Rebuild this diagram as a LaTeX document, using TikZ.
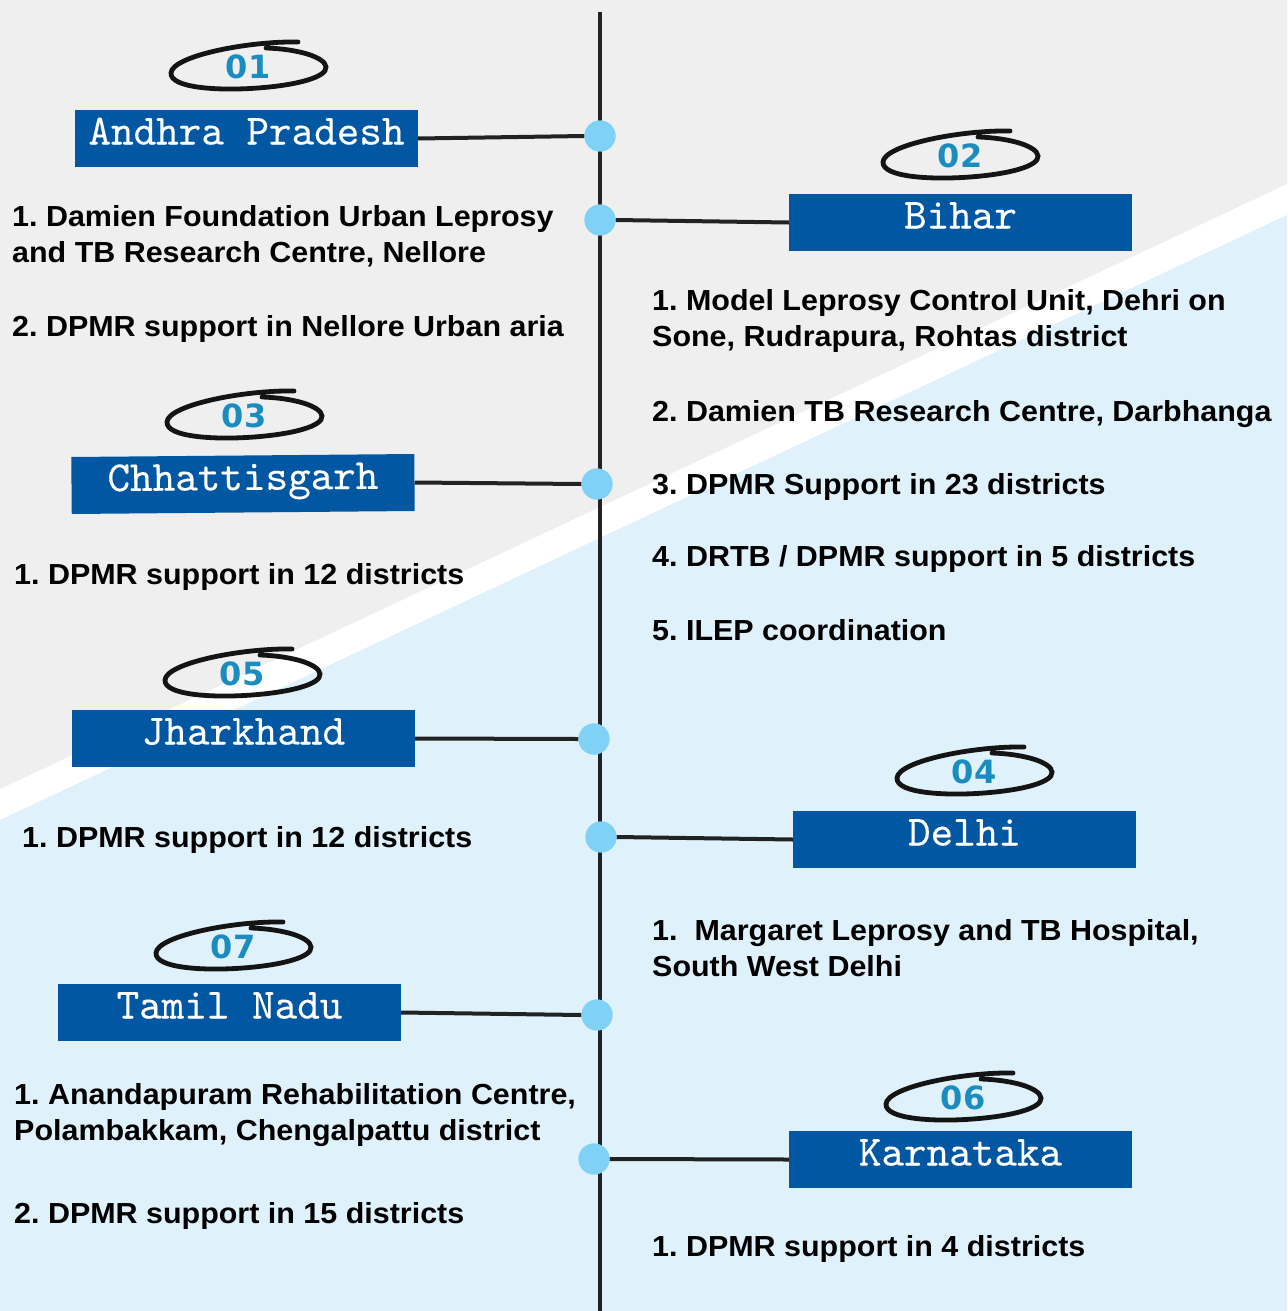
\documentclass[tikz,border=0pt]{standalone}
\usepackage{fontspec}
\setmainfont{Liberation Sans}
\newfontfamily\bodyfont[FakeStretch=1.05]{Liberation Sans Bold}
\newfontfamily\numfont{DejaVu Sans Bold}
\newfontfamily\boxfont[FakeBold=0.2]{lmmono10-regular.otf}
\definecolor{bggray}{HTML}{EFEFEF}
\definecolor{bgblue}{HTML}{DFF1FB}
\definecolor{boxblue}{HTML}{0157A2}
\definecolor{dotblue}{HTML}{7FD1F6}
\definecolor{numblue}{HTML}{1A8CC0}
\definecolor{linegray}{HTML}{222222}
\tikzset{
  statebox/.style={fill=boxblue, text=white, minimum width=343pt, minimum height=57pt,
    inner sep=0pt, text height=24pt, text depth=12pt,
    font=\boxfont\fontsize{43}{43}\selectfont},
  tdot/.style={circle, fill=dotblue, minimum size=31pt, inner sep=0pt},
  conn/.style={draw=linegray, line width=4pt},
  item/.style={anchor=base west, align=left, inner sep=0pt, text=black,
    font=\bodyfont\frenchspacing\fontsize{29}{35.5}\selectfont},
  num/.style={text=numblue, font=\numfont\fontsize{32}{32}\selectfont, inner sep=0pt},
  scrib/.pic={\draw[line width=4.8pt, line cap=round, black!92]
    (50,-25) .. controls (0,-26) and (-76,-11) .. (-77,6)
    .. controls (-78,21) and (-30,24) .. (10,21)
    .. controls (50,18) and (79,10) .. (78,0)
    .. controls (77,-10) and (50,-18) .. (18,-19);}
}
\begin{document}
\begin{tikzpicture}[x=1pt,y=-1pt]
\useasboundingbox (0,0) rectangle (1287,1311);
% background
\fill[white] (0,0) rectangle (1287,1311);
\fill[bggray] (0,0) -- (1287,0) -- (1287,184) -- (0,789) -- cycle;
\fill[bgblue] (0,820) -- (1287,215) -- (1287,1311) -- (0,1311) -- cycle;
% timeline
\coordinate (ttop) at (600,12);
\coordinate (tbot) at (600,1311);
\draw[conn] (ttop) -- (tbot);
% dots
\node[tdot] (d1) at (600,136) {};
\node[tdot] (d2) at (600,220) {};
\node[tdot] (d3) at (597,484) {};
\node[tdot] (d5) at (594,739) {};
\node[tdot] (d4) at (601,837) {};
\node[tdot] (d7) at (597,1015) {};
\node[tdot] (d6) at (594,1159) {};
% boxes
\node[statebox] (ap) at (246.5,138.5) {Andhra Pradesh};
\node[statebox] (bh) at (960.5,222.5) {Bihar};
\node[statebox, rotate=0.5] (ch) at (243,484) {Chhattisgarh};
\node[statebox] (jh) at (243.5,738.5) {Jharkhand};
\node[statebox] (dl) at (964.5,839.5) {Delhi};
\node[statebox] (tn) at (229.5,1012.5) {Tamil Nadu};
\node[statebox] (kn) at (960.5,1159.5) {Karnataka};
% connectors
\draw[conn] (ap.east) -- (d1.west);
\draw[conn] (bh.west) -- (d2.east);
\draw[conn] (ch.east) -- (d3.west);
\draw[conn] (jh.east) -- (d5.west);
\draw[conn] (dl.west) -- (d4.east);
\draw[conn] (tn.east) -- (d7.west);
\draw[conn] (kn.west) -- (d6.east);
% redraw dots over connectors
\foreach \d in {d1,d2,d3,d4,d5,d6,d7} \fill[dotblue] (\d) circle (15.5);
% scribbles and numbers
\pic at (248,67) {scrib}; \node[num] (n1) at (248,67) {01};
\pic at (960,156) {scrib}; \node[num] (n2) at (960,156) {02};
\pic at (244,416) {scrib}; \node[num] (n3) at (244,416) {03};
\pic at (242,674) {scrib}; \node[num] (n5) at (242,674) {05};
\pic at (974,772) {scrib}; \node[num] (n4) at (974,772) {04};
\pic at (233,947) {scrib}; \node[num] (n7) at (233,947) {07};
\pic at (963,1098) {scrib}; \node[num] (n6) at (963,1098) {06};
% items (multi-line nodes are placed at the baseline of their last line)
\node[item] (ap1) at (12,262) {1. Damien Foundation Urban Leprosy\\and TB Research Centre, Nellore};
\node[item] (ap2) at (12,336) {2. DPMR support in Nellore Urban aria};
\node[item] (bh1) at (652,346) {1. Model Leprosy Control Unit, Dehri on\\Sone, Rudrapura, Rohtas district};
\node[item] (bh2) at (652,421) {2. Damien TB Research Centre, Darbhanga};
\node[item] (bh3) at (652,494) {3. DPMR Support in 23 districts};
\node[item] (bh4) at (652,566) {4. DRTB / DPMR support in 5 districts};
\node[item] (bh5) at (652,640) {5. ILEP coordination};
\node[item] (ch1) at (14,584) {1. DPMR support in 12 districts};
\node[item] (jh1) at (22,847) {1. DPMR support in 12 districts};
\node[item] (dl1) at (652,976) {1.\ \ Margaret Leprosy and TB Hospital,\\South West Delhi};
\node[item] (tn1) at (14,1140) {1. Anandapuram Rehabilitation Centre,\\Polambakkam, Chengalpattu district};
\node[item] (tn2) at (14,1223) {2. DPMR support in 15 districts};
\node[item] (kn1) at (652,1256) {1. DPMR support in 4 districts};
\end{tikzpicture}
\end{document}
